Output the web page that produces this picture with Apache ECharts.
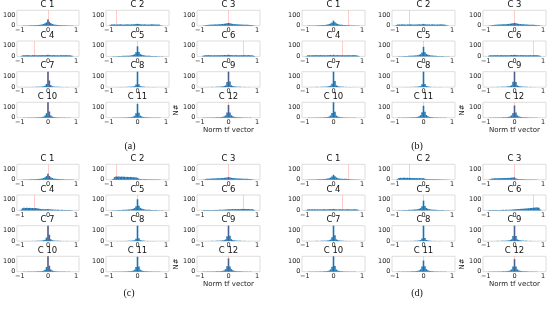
<!DOCTYPE html>
<html><head><meta charset="utf-8">
<script src="https://cdn.jsdelivr.net/npm/echarts@6/dist/echarts.min.js"></script>
<style>html,body{margin:0;padding:0;background:#fff}#c{width:550px;height:310px}</style>
</head><body><div id="c"></div>
<script>
const binCenters = [-1,-0.95,-0.9,-0.85,-0.8,-0.75,-0.7,-0.65,-0.6,-0.55,-0.5,-0.45,-0.4,-0.35,-0.3,-0.25,-0.2,-0.15,-0.1,-0.05,0,0.05,0.1,0.15,0.2,0.25,0.3,0.35,0.4,0.45,0.5,0.55,0.6,0.65,0.7,0.75,0.8,0.85,0.9,0.95,1];
const subplotTitles = ['C 1','C 2','C 3','C 4','C 5','C 6','C 7','C 8','C 9','C 10','C 11','C 12'];
const xTickValues = [-1, 0, 1];
const yTickValues = [0, 100];
const panelLabels = ['(a)','(b)','(c)','(d)'];
const yLabelText = 'N#';
const xLabelText = 'Norm tf vector';

const redA = [0,-0.75,0,-0.5,0,0.5,0,0,0,0,0,0];
const redB = [0.5,-0.5,0,0.3,0,0.65,0,0,0,0,0,0];
const redC = [0,-0.75,0,-0.5,0,0.5,0,0,0,0,0,0];
const redD = [0.5,-0.5,0,0.3,0,0.65,0,0,0,0,0,0];

// counts per bin; spikes that run past the top of the axis are read as 145 (the axis top)
const histA = [
[0,0,1,1,2,2,3,3,4,4,5,5,6,7,8,10,12,16,22,32,58,36,24,16,12,10,8,7,6,5,5,4,4,3,3,2,2,1,1,0,0],
[0,8,12,11,13,10,12,11,13,12,10,12,11,13,12,11,13,12,14,15,18,15,13,12,11,13,12,10,12,11,13,12,11,12,10,11,4,1,0,0,0],
[0,0,1,2,5,7,8,9,10,10,11,12,12,13,14,15,16,18,20,22,26,22,19,17,15,14,13,12,12,11,10,10,9,9,8,7,6,5,2,1,0],
[0,2,9,11,10,12,10,11,9,12,10,11,10,12,11,10,12,11,12,13,15,13,11,10,12,11,10,11,9,12,10,11,10,12,10,11,9,6,1,0,0],
[0,0,1,1,2,2,3,3,4,4,5,5,6,6,7,8,10,14,20,38,95,42,22,15,11,9,7,6,5,5,4,4,3,3,2,2,1,1,1,0,0],
[0,0,5,9,11,10,12,10,11,9,11,10,12,11,10,12,11,13,12,14,16,13,12,11,10,12,11,10,12,11,10,12,11,10,12,11,10,9,4,1,0],
[0,0,0,0,1,1,1,1,1,2,2,2,2,3,3,4,5,7,12,30,145,62,18,9,5,4,3,3,2,2,2,1,1,1,1,1,0,0,0,0,0],
[0,0,0,0,0,1,1,1,1,1,1,2,2,2,3,3,4,5,8,24,145,28,9,5,4,3,2,2,2,1,1,1,1,1,0,0,0,0,0,0,0],
[0,0,0,1,1,1,1,1,2,2,2,2,3,3,4,5,6,9,16,48,145,52,17,9,6,5,4,3,3,2,2,2,1,1,1,1,0,0,0,0,0],
[0,0,0,1,1,1,1,2,2,2,2,3,3,4,4,5,7,10,20,42,145,58,21,11,7,5,4,3,3,2,2,2,1,1,1,1,0,0,0,0,0],
[0,0,0,1,1,1,1,2,2,2,3,3,3,4,4,5,7,10,18,42,130,46,19,11,7,5,4,4,3,3,2,2,2,1,1,1,1,0,0,0,0],
[0,0,1,1,1,1,2,2,2,3,3,3,4,4,5,6,8,12,22,48,120,50,23,13,8,6,5,4,4,3,3,2,2,2,1,1,1,0,0,0,0]
];
const histB = [
[0,0,1,1,2,2,2,3,3,4,4,5,6,6,7,9,11,15,21,30,48,33,22,15,11,9,8,6,6,5,4,4,3,3,3,2,2,1,1,0,0],
[0,7,11,12,10,13,11,12,10,12,11,13,12,10,12,11,12,13,12,14,17,14,12,11,12,10,13,11,12,10,12,11,13,12,11,10,5,1,0,0,0],
[0,0,1,3,5,7,8,9,10,11,11,12,13,13,14,15,17,18,21,23,27,23,20,17,15,14,13,12,11,11,10,9,9,8,8,7,5,4,2,1,0],
[0,3,10,11,9,12,11,10,12,10,11,12,10,11,12,10,11,12,13,12,15,12,11,12,10,11,12,10,11,10,12,11,10,11,12,10,10,7,2,0,0],
[0,0,1,1,2,2,3,3,4,4,5,6,6,7,8,9,11,15,21,36,90,40,23,16,12,9,8,6,5,5,4,3,3,3,2,2,1,1,1,0,0],
[0,0,6,10,10,12,11,10,12,10,11,12,10,11,12,11,10,12,13,13,15,13,12,10,11,12,10,11,12,10,11,12,10,11,12,10,11,9,5,1,0],
[0,0,0,0,1,1,1,1,2,2,2,2,3,3,3,4,5,8,13,32,145,58,17,9,5,4,3,3,2,2,2,1,1,1,1,0,0,0,0,0,0],
[0,0,0,0,0,1,1,1,1,1,2,2,2,2,3,3,4,6,9,26,145,30,10,6,4,3,2,2,2,1,1,1,1,1,0,0,0,0,0,0,0],
[0,0,0,1,1,1,1,1,2,2,2,3,3,3,4,5,6,9,17,50,145,48,16,9,6,5,4,3,3,2,2,2,1,1,1,1,0,0,0,0,0],
[0,0,0,1,1,1,1,2,2,2,3,3,3,4,4,5,7,11,20,45,145,55,20,11,7,5,4,3,3,2,2,2,1,1,1,1,0,0,0,0,0],
[0,0,1,1,1,1,2,2,2,3,3,3,4,4,5,6,8,13,24,52,112,55,25,14,8,6,5,4,3,3,3,2,2,1,1,1,1,0,0,0,0],
[0,0,1,1,1,1,2,2,2,3,3,3,4,4,5,6,8,12,22,45,115,48,22,12,8,6,5,4,4,3,3,2,2,2,1,1,1,0,0,0,0]
];
const histC = [
[0,0,1,1,2,2,3,3,4,4,5,5,6,7,8,10,12,16,23,34,55,35,22,15,11,9,8,7,6,5,4,4,3,3,2,2,2,1,1,0,0],
[0,0,1,6,24,30,29,31,28,29,27,28,26,27,25,26,24,23,22,20,18,10,6,5,4,5,4,4,3,4,3,3,3,2,3,2,1,0,0,0,0],
[0,0,1,3,6,8,9,10,11,11,12,12,13,14,14,15,16,17,19,21,25,20,18,16,14,13,12,11,11,10,10,9,8,8,7,6,5,3,1,0,0],
[0,6,20,24,22,25,23,24,22,23,21,22,20,18,15,13,12,11,10,11,13,10,9,8,7,6,6,5,5,4,5,4,4,3,4,3,2,1,0,0,0],
[0,0,1,1,2,2,3,3,4,4,5,5,6,7,8,9,11,15,22,40,105,44,24,16,12,9,7,6,5,5,4,4,3,3,2,2,1,1,1,0,0],
[0,0,2,3,4,3,4,4,3,4,4,5,4,5,5,6,6,7,8,9,11,10,11,12,11,13,12,13,12,14,13,14,13,14,13,12,11,10,4,1,0],
[0,0,0,0,1,1,1,1,1,2,2,2,2,3,3,4,5,8,13,34,145,60,17,9,5,4,3,3,2,2,2,1,1,1,1,1,0,0,0,0,0],
[0,0,0,0,0,1,1,1,1,1,1,2,2,2,3,3,4,5,8,22,145,27,9,5,4,3,2,2,2,1,1,1,1,1,0,0,0,0,0,0,0],
[0,0,0,1,1,1,1,1,2,2,2,2,3,3,4,5,6,9,16,46,145,50,18,9,6,5,4,3,3,2,2,2,1,1,1,1,0,0,0,0,0],
[0,0,0,1,1,1,1,2,2,2,2,3,3,4,4,5,7,10,19,44,145,56,21,11,7,5,4,3,3,2,2,2,1,1,1,1,0,0,0,0,0],
[0,0,0,1,1,1,1,2,2,2,3,3,3,4,4,5,7,10,18,44,140,48,19,11,7,5,4,4,3,3,2,2,2,1,1,1,1,0,0,0,0],
[0,0,1,1,1,1,2,2,2,3,3,3,4,4,5,6,8,12,24,52,125,50,24,13,8,6,5,4,4,3,3,2,2,2,1,1,1,0,0,0,0]
];
const histD = [
[0,0,1,1,2,2,2,3,3,4,4,5,5,6,7,9,11,14,20,30,46,32,21,14,11,9,8,7,9,8,6,5,4,3,3,2,2,1,1,0,0],
[0,1,8,16,18,17,19,18,17,18,16,17,16,15,16,15,14,15,14,13,15,9,6,5,5,4,5,4,4,3,4,3,3,3,2,2,1,1,0,0,0],
[0,0,1,4,10,12,13,14,13,15,14,15,16,15,16,17,16,18,19,20,22,12,8,6,5,5,4,4,3,3,3,3,2,2,2,1,1,0,0,0,0],
[0,3,9,10,8,10,9,11,9,10,8,10,9,11,10,9,10,11,12,11,14,11,10,9,10,11,9,10,9,10,11,9,10,9,10,11,9,6,1,0,0],
[0,0,1,1,2,2,3,3,4,4,5,5,6,7,8,9,11,15,21,38,92,42,23,15,11,9,7,6,5,5,4,3,3,3,2,2,1,1,1,0,0],
[0,0,2,3,3,4,3,4,4,3,4,4,5,4,5,5,6,6,7,8,10,10,12,13,14,15,16,17,18,19,20,22,23,24,26,27,28,25,8,1,0],
[0,0,0,0,1,1,1,1,2,2,2,2,3,3,3,4,5,8,14,36,145,56,16,9,5,4,3,3,2,2,2,1,1,1,1,0,0,0,0,0,0],
[0,0,0,0,0,1,1,1,1,1,2,2,2,2,3,3,4,6,9,25,145,29,10,6,4,3,2,2,2,1,1,1,1,1,0,0,0,0,0,0,0],
[0,0,0,1,1,1,1,1,2,2,2,3,3,3,4,5,6,9,17,47,145,49,16,9,6,5,4,3,3,2,2,2,1,1,1,1,0,0,0,0,0],
[0,0,0,1,1,1,1,2,2,2,3,3,3,4,4,5,7,11,21,47,145,54,20,11,7,5,4,3,3,2,2,2,1,1,1,1,0,0,0,0,0],
[0,0,1,1,1,1,2,2,2,3,3,3,4,4,5,6,8,12,22,48,105,52,24,13,8,6,5,4,3,3,3,2,2,1,1,1,1,0,0,0,0],
[0,0,1,1,1,1,2,2,2,3,3,3,4,4,5,6,8,12,22,48,118,50,22,12,8,6,5,4,4,3,3,2,2,2,1,1,1,0,0,0,0]
];

// ---- layout ----
const panels = [
  {hist: histA, red: redA, ox: 0,   oy: 0,   label: panelLabels[0], lx: 130, ly: 147},
  {hist: histB, red: redB, ox: 286, oy: 0,   label: panelLabels[1], lx: 417, ly: 147},
  {hist: histC, red: redC, ox: 0,   oy: 154, label: panelLabels[2], lx: 129, ly: 294},
  {hist: histD, red: redD, ox: 286, oy: 154, label: panelLabels[3], lx: 417, ly: 294}
];
const colLeft = [16, 106, 197];
const rowTop = [10.3, 41, 71.7, 102.3];
const W = 63, H = 15.4, YMAX = 145;
const FONT = 'DejaVu Sans';
const minus = v => String(v).replace('-', '\u2212');

const grid = [], xAxis = [], yAxis = [], series = [], graphic = [];
let k = 0;
panels.forEach(p => {
  for (let j = 0; j < 12; j++) {
    const r = Math.floor(j / 3), c = j % 3;
    const left = p.ox + colLeft[c], top = p.oy + rowTop[r];
    grid.push({left: left, top: top, width: W, height: H, show: true,
      borderColor: '#d4d4d4', borderWidth: 0.8, backgroundColor: 'transparent', containLabel: false});
    const last = (j === 11);
    xAxis.push({gridIndex: k, type: 'value', min: -1.1, max: 1.1,
      axisLine: {show: false}, axisTick: {show: false}, splitLine: {show: false},
      axisLabel: {customValues: xTickValues, formatter: minus, fontSize: 6.5, margin: 1,
        color: '#222', fontFamily: FONT},
      name: last ? xLabelText : '', nameLocation: 'middle', nameGap: 8,
      nameTextStyle: {fontSize: 7, color: '#222', fontFamily: FONT}});
    yAxis.push({gridIndex: k, type: 'value', min: 0, max: YMAX,
      axisLine: {show: false}, axisTick: {show: false}, splitLine: {show: false},
      axisLabel: {customValues: yTickValues, fontSize: 6.5, margin: 1.5, color: '#222', fontFamily: FONT},
      name: last ? yLabelText : '', nameLocation: 'middle', nameGap: 17, nameRotate: 90,
      nameTextStyle: {fontSize: 7, color: '#222', fontFamily: FONT}});
    const vals = p.hist[j];
    series.push({type: 'bar', xAxisIndex: k, yAxisIndex: k, clip: true, silent: true,
      barWidth: 1.6, itemStyle: {color: '#1f77b4'},
      data: binCenters.map((x, i) => [x, Math.min(vals[i], YMAX)]),
      markLine: {silent: true, symbol: ['none', 'none'], label: {show: false},
        lineStyle: {color: 'rgba(255,0,0,0.2)', width: 1, type: 'solid'},
        data: [{xAxis: p.red[j]}]}});
    graphic.push({type: 'text', x: left + W / 2, y: top - 10,
      style: {text: subplotTitles[j], align: 'center', verticalAlign: 'top',
        font: '8.5px "DejaVu Sans"', fill: '#111'}});
    k++;
  }
  graphic.push({type: 'text', x: p.lx, y: p.ly - 6,
    style: {text: p.label, align: 'center', verticalAlign: 'top',
      font: '10px "Liberation Serif"', fill: '#111'}});
});

const chart = echarts.init(document.getElementById('c'), null, {renderer: 'canvas'});
chart.setOption({animation: false, backgroundColor: '#fff', grid, xAxis, yAxis, series, graphic});
</script></body></html>
